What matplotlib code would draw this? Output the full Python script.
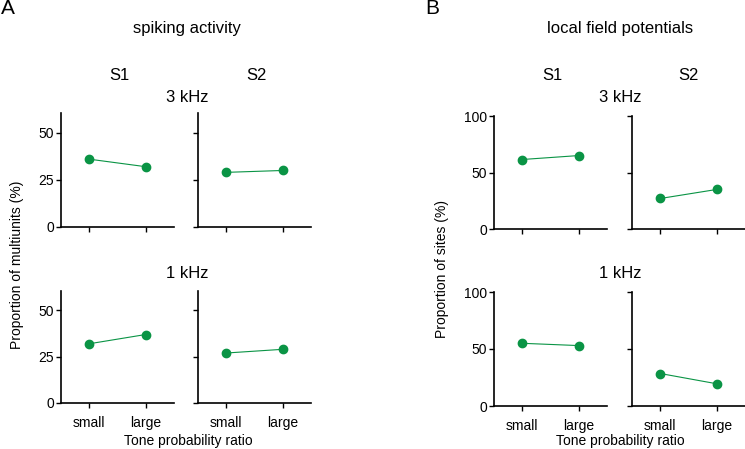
import matplotlib
matplotlib.use("Agg")
import matplotlib.pyplot as plt

plt.rcParams['font.family'] = ['Liberation Sans', 'DejaVu Sans']
plt.rcParams['font.size'] = 10

W, H = 745, 449
GREEN = '#0a9445'

ratio_labels = ['small', 'large']

# spiking activity (% multiunits)
spk_s1_3k = [36, 32]
spk_s2_3k = [29, 30]
spk_s1_1k = [32, 37]
spk_s2_1k = [27, 29]

# local field potentials (% sites)
lfp_s1_3k = [61.5, 65]
lfp_s2_3k = [27, 35]
lfp_s1_1k = [55, 53]
lfp_s2_1k = [28.5, 19.5]

fig = plt.figure(figsize=(W / 100, H / 100), dpi=100)


def px_axes(x0, y0, x1, y1):
    # pixel box (left, top, right, bottom) -> figure fraction
    return fig.add_axes([x0 / W, 1 - y1 / H, (x1 - x0) / W, (y1 - y0) / H])


def panel(ax, vals, ymax, yticks, show_labels, show_xlabels):
    ax.plot([0, 1], vals, '-', color=GREEN, lw=0.8, marker='o', ms=6,
            mec=GREEN, mfc=GREEN)
    ax.set_xlim(-0.5, 1.5)
    ax.set_ylim(0, ymax)
    ax.set_xticks([0, 1])
    ax.set_yticks(yticks)
    for s in ['top', 'right']:
        ax.spines[s].set_visible(False)
    for s in ['left', 'bottom']:
        ax.spines[s].set_linewidth(1.2)
    ax.tick_params(width=1.0, length=3.5, labelsize=10)
    ax.tick_params(axis='x', pad=6)
    ax.tick_params(axis='y', pad=1.5)
    if not show_labels:
        ax.set_yticklabels([])
    if show_xlabels:
        ax.set_xticklabels(ratio_labels)
    else:
        ax.set_xticklabels([])


# panel A
a1 = px_axes(61, 113, 174, 227)
a2 = px_axes(198, 113, 311, 227)
a3 = px_axes(61, 291, 174, 403)
a4 = px_axes(198, 291, 311, 403)
panel(a1, spk_s1_3k, 60.5, [0, 25, 50], True, False)
panel(a2, spk_s2_3k, 60.5, [0, 25, 50], False, False)
panel(a3, spk_s1_1k, 60.5, [0, 25, 50], True, True)
panel(a4, spk_s2_1k, 60.5, [0, 25, 50], False, True)

# panel B
b1 = px_axes(494, 116, 607, 229)
b2 = px_axes(632, 116, 745, 229)
b3 = px_axes(494, 292, 607, 406)
b4 = px_axes(632, 292, 745, 406)
panel(b1, lfp_s1_3k, 100, [0, 50, 100], True, False)
panel(b2, lfp_s2_3k, 100, [0, 50, 100], False, False)
panel(b3, lfp_s1_1k, 100, [0, 50, 100], True, True)
panel(b4, lfp_s2_1k, 100, [0, 50, 100], False, True)


def txt(x, y, s, **kw):
    fig.text(x / W, 1 - y / H, s, ha='center', va='center', **kw)


txt(8, 8, 'A', fontsize=15)
txt(432, 8, 'B', fontsize=15)

txt(187, 29, 'spiking activity', fontsize=12)
txt(119, 76, 'S1', fontsize=12)
txt(256, 76, 'S2', fontsize=12)
txt(187, 98, '3 kHz', fontsize=12)
txt(187, 273, '1 kHz', fontsize=12)
txt(17, 265, 'Proportion of multiunits (%)', rotation=90, fontsize=10)
txt(188, 441, 'Tone probability ratio', fontsize=10)

txt(620, 29, 'local field potentials', fontsize=12)
txt(552, 76, 'S1', fontsize=12)
txt(688, 76, 'S2', fontsize=12)
txt(620, 98, '3 kHz', fontsize=12)
txt(620, 273, '1 kHz', fontsize=12)
txt(442, 269, 'Proportion of sites (%)', rotation=90, fontsize=10)
txt(620, 441, 'Tone probability ratio', fontsize=10)

fig.savefig('out.png', dpi=100)
